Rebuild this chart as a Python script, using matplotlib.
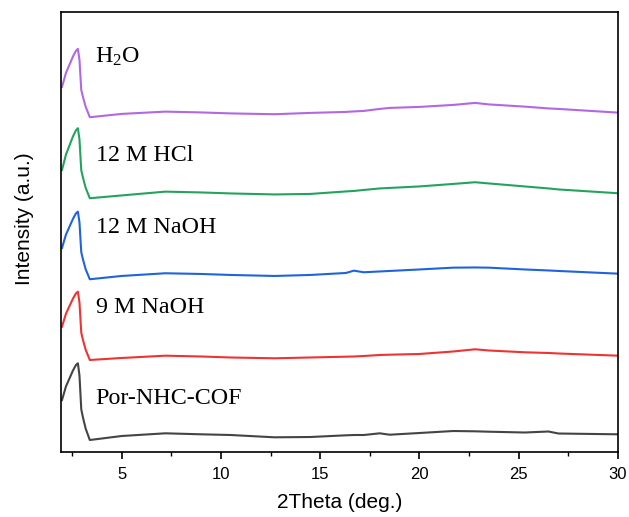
import matplotlib
matplotlib.use("Agg")
import matplotlib.pyplot as plt
from matplotlib.ticker import MultipleLocator

plt.rcParams['mathtext.fontset'] = 'custom'
plt.rcParams['mathtext.rm'] = 'Liberation Serif'
plt.rcParams['mathtext.it'] = 'Liberation Serif:italic'

two_theta = [2.0, 2.2, 2.55, 2.7, 2.8, 2.88, 2.97, 3.05, 3.19, 3.4, 5.0, 7.2, 9.0, 10.5,
             12.7, 14.5, 16.3, 16.7, 17.2, 18.0, 18.5, 20.0, 21.7, 22.8, 23.5,
             25.3, 26.5, 27.0, 30.0]

h2o = [365, 379, 395.3, 401, 403, 392, 362, 355.3, 345.3, 334.7, 338, 340.3, 339.5, 338.5,
       337.7, 339, 340, 340.5, 341, 343, 344, 345, 347, 349, 347.5,
       345.3, 343.5, 343, 339.3]
hcl12 = [282, 297.4, 315.4, 321.6, 323.7, 312.5, 281.7, 274.7, 264.2, 253.7, 256.5, 260.3, 259.5, 258.5,
         257.5, 258, 260.5, 261, 262, 263.5, 264, 265.5, 268, 269.7, 268.5,
         265.5, 263.5, 262.5, 258.7]
naoh12 = [204, 217.4, 233, 238.5, 240.3, 229.5, 199.7, 193, 182.8, 172.7, 176, 178.7, 178, 177,
          176, 177, 179, 181.3, 179.7, 180.5, 181, 182.5, 184.3, 184.5, 184.3,
          182.5, 181.5, 181, 178.3]
naoh9 = [125.3, 138.3, 153.3, 158.5, 160.3, 149.4, 119.3, 112.5, 102.3, 92, 94, 96.3, 95.5, 94.5,
         93.7, 94.5, 95.3, 95.5, 96, 97, 97.3, 98, 100.5, 102.7, 101.5,
         99.7, 99, 98.5, 96.3]
cof = [52, 65.6, 81.4, 86.9, 88.7, 76.4, 42.7, 35, 23.5, 12, 16, 18.7, 17.7, 17,
       14.7, 15, 16.7, 17, 17, 18.7, 17.3, 19, 21, 20.7, 20.3,
       19.5, 20.5, 18.5, 17.7]

series = [cof, naoh9, naoh12, hcl12, h2o]
labels = ['Por-NHC-COF', '9 M NaOH', '12 M NaOH', '12 M HCl', 'H$_2$O']
colors = ['#444444', '#EE3333', '#1F63DD', '#23A35E', '#B168E2']
label_x = [3.67, 3.72, 3.72, 3.72, 3.64]
label_y = [47.7, 138.7, 219.3, 291.3, 389.3]

fig = plt.figure(figsize=(6.29, 5.17), dpi=100)
ax = fig.add_axes([0.097, 0.1257, 0.8855, 0.8513])

for ys, c in zip(series, colors):
    ax.plot(two_theta, ys, color=c, lw=1.5)

for t, lx, ly in zip(labels, label_x, label_y):
    ax.text(lx, ly, t, fontsize=17.3, family='Liberation Serif', va='baseline', ha='left')

ax.set_xlim(1.95, 30)
ax.set_ylim(0, 440)
ax.xaxis.set_major_locator(MultipleLocator(5))
ax.xaxis.set_minor_locator(MultipleLocator(2.5))
ax.tick_params(axis='x', which='major', direction='out', length=5, width=1.2,
               labelsize=12, pad=5.5, top=False)
ax.tick_params(axis='x', which='minor', direction='out', length=3, width=1.0, top=False)
ax.set_yticks([])
for s in ax.spines.values():
    s.set_linewidth(1.2)
ax.set_xlabel('2Theta (deg.)', fontsize=15, family='Liberation Sans', labelpad=8)
ax.set_ylabel('Intensity (a.u.)', fontsize=15, family='Liberation Sans')
ax.yaxis.set_label_coords(-0.049, 0.53)
for lab in ax.get_xticklabels():
    lab.set_family('Liberation Sans')

fig.savefig('out.png', dpi=100)
